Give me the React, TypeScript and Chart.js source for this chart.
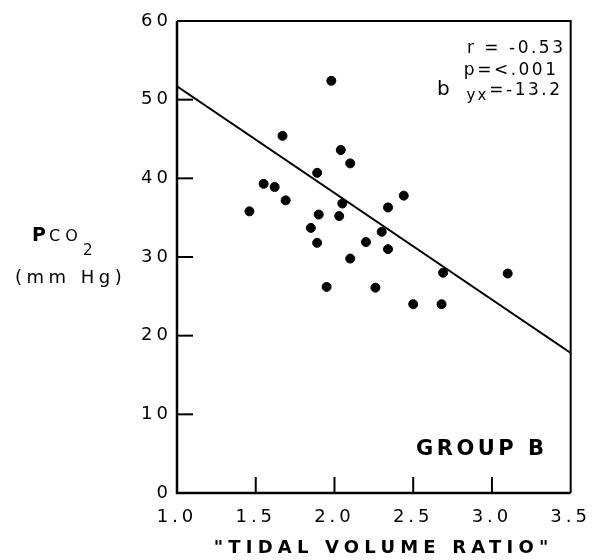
import React, { useEffect, useRef } from "react";
import { Chart, registerables } from "chart.js";

Chart.register(...registerables);

// Observations: tidal volume ratio (x) vs Pco2 in mm Hg (y)
const tidalRatio = [1.98, 1.67, 2.04, 2.1, 1.89, 1.55, 1.62, 2.44, 1.69, 2.05, 1.46, 2.34, 1.9, 2.03, 1.85, 2.3, 1.89, 2.2, 2.34, 2.1, 2.69, 3.1, 1.95, 2.26, 2.5, 2.68];
const pco2 = [52.4, 45.4, 43.6, 41.9, 40.7, 39.3, 38.9, 37.8, 37.2, 36.8, 35.8, 36.3, 35.4, 35.2, 33.7, 33.2, 31.8, 31.9, 31.0, 29.8, 28.0, 27.9, 26.2, 26.1, 24.0, 24.0];

// Regression line end points
const fitX = [1.0, 3.5];
const fitY = [51.7, 17.8];

const xTicks = [1.0, 1.5, 2.0, 2.5, 3.0, 3.5];
const yTicks = [0, 10, 20, 30, 40, 50, 60];

const statLines = ["r = -0.53", "p=<.001"];
const slopeLabel = "=-13.2";
const groupLabel = "GROUP B";
const xTitle = "\"TIDAL VOLUME RATIO\"";

const FONT = "'DejaVu Sans', 'Liberation Sans', sans-serif";

function spaced(ctx: CanvasRenderingContext2D, text: string, x: number, y: number, font: string, spacing: number, align: CanvasTextAlign = "left") {
  ctx.font = font;
  (ctx as any).letterSpacing = `${spacing}px`;
  ctx.textAlign = "left";
  ctx.textBaseline = "alphabetic";
  const w = ctx.measureText(text).width - spacing;
  let sx = x;
  if (align === "right") sx = x - w;
  else if (align === "center") sx = x - w / 2;
  ctx.fillText(text, sx, y);
  (ctx as any).letterSpacing = "0px";
  return w;
}

const framePlugin = {
  id: "frame",
  beforeDraw(chart: any) {
    (chart.ctx as any).letterSpacing = "4px";
  },
  afterDraw(chart: any) {
    const ctx: CanvasRenderingContext2D = chart.ctx;
    const { left, right, top, bottom } = chart.chartArea;
    const xs = chart.scales.x;
    const ys = chart.scales.y;
    ctx.save();
    (ctx as any).letterSpacing = "0px";
    ctx.setLineDash([]);
    ctx.strokeStyle = "#000000";
    ctx.fillStyle = "#000000";
    // frame
    ctx.lineWidth = 2.5;
    ctx.beginPath();
    ctx.moveTo(left, top);
    ctx.lineTo(left, bottom);
    ctx.lineTo(right, bottom);
    ctx.stroke();
    ctx.lineWidth = 2;
    ctx.beginPath();
    ctx.moveTo(left, top);
    ctx.lineTo(right, top);
    ctx.lineTo(right, bottom);
    ctx.stroke();
    // inward ticks
    ctx.lineWidth = 2;
    yTicks.forEach((v) => {
      if (v === yTicks[0] || v === yTicks[yTicks.length - 1]) return;
      const py = ys.getPixelForValue(v);
      ctx.beginPath();
      ctx.moveTo(left, py);
      ctx.lineTo(left + 16, py);
      ctx.stroke();
    });
    xTicks.forEach((v) => {
      if (v === xTicks[0] || v === xTicks[xTicks.length - 1]) return;
      const px = xs.getPixelForValue(v);
      ctx.beginPath();
      ctx.moveTo(px, bottom);
      ctx.lineTo(px, bottom - 16);
      ctx.stroke();
    });

    // stats text
    const sFont = `17px ${FONT}`;
    spaced(ctx, statLines[0], 563, 53, sFont, 2.5, "right");
    spaced(ctx, statLines[1], 556, 75, sFont, 2.5, "right");
    const w = spaced(ctx, slopeLabel, 560, 95, sFont, 2.5, "right");
    const sx = 560 - w;
    spaced(ctx, "yx", sx - 3, 100, `15px ${FONT}`, 2, "right");
    spaced(ctx, "b", 437, 95, `20px ${FONT}`, 0, "left");

    // group label
    spaced(ctx, groupLabel, 480, 455, `bold 21px ${FONT}`, 3.5, "center");

    // x title
    spaced(ctx, xTitle, 381, 553, `bold 18px ${FONT}`, 5.2, "center");

    // y title
    spaced(ctx, "P", 32, 241, `bold 19px ${FONT}`, 0, "left");
    spaced(ctx, "CO", 49, 241, `16px ${FONT}`, 5, "left");
    spaced(ctx, "2", 83, 255, `15px ${FONT}`, 0, "left");
    spaced(ctx, "(mm Hg)", 15, 283, `18px ${FONT}`, 4.5, "left");
    ctx.restore();
  },
};

export default function App() {
  const ref = useRef<HTMLCanvasElement | null>(null);
  useEffect(() => {
    if (!ref.current) return;
    const pts = tidalRatio.map((x, i) => ({ x, y: pco2[i] }));
    const fit = fitX.map((x, i) => ({ x, y: fitY[i] }));
    const chart = new Chart(ref.current, {
      type: "scatter",
      data: {
        datasets: [
          {
            label: "Group B",
            data: pts,
            backgroundColor: "#000",
            borderColor: "#000",
            pointRadius: 4.5,
            pointHoverRadius: 4.5,
          },
          {
            label: "Regression",
            data: fit,
            showLine: true,
            borderColor: "#000",
            borderWidth: 2,
            pointRadius: 0,
            fill: false,
          } as any,
        ],
      },
      options: {
        responsive: false,
        animation: false,
        devicePixelRatio: 1,
        layout: { padding: { left: 0, right: 24, top: 21, bottom: 0 } },
        plugins: { legend: { display: false }, tooltip: { enabled: false } },
        scales: {
          x: {
            type: "linear",
            min: 1.0,
            max: 3.5,
            afterFit: (s: any) => { s.height = 67; },
            afterBuildTicks: (s: any) => { s.ticks = xTicks.map((v) => ({ value: v })); },
            grid: { display: false, drawTicks: false },
            border: { display: false },
            ticks: {
              color: "#000",
              padding: 14,
              maxRotation: 0,
              font: { family: FONT, size: 18 },
              callback: (v: any) => Number(v).toFixed(1),
            },
          },
          y: {
            type: "linear",
            min: 0,
            max: 60,
            afterFit: (s: any) => { s.width = 177; },
            afterBuildTicks: (s: any) => { s.ticks = yTicks.map((v) => ({ value: v })); },
            grid: { display: false, drawTicks: false },
            border: { display: false },
            ticks: {
              color: "#000",
              padding: 5,
              font: { family: FONT, size: 18 },
              callback: (v: any) => String(v),
            },
          },
        },
      },
      plugins: [framePlugin],
    });
    return () => chart.destroy();
  }, []);
  return (
    <div style={{ position: "absolute", left: 0, top: 0, width: 599, height: 560, background: "#fff" }}>
      <canvas ref={ref} width={599} height={560} style={{ width: 599, height: 560 }} />
    </div>
  );
}
